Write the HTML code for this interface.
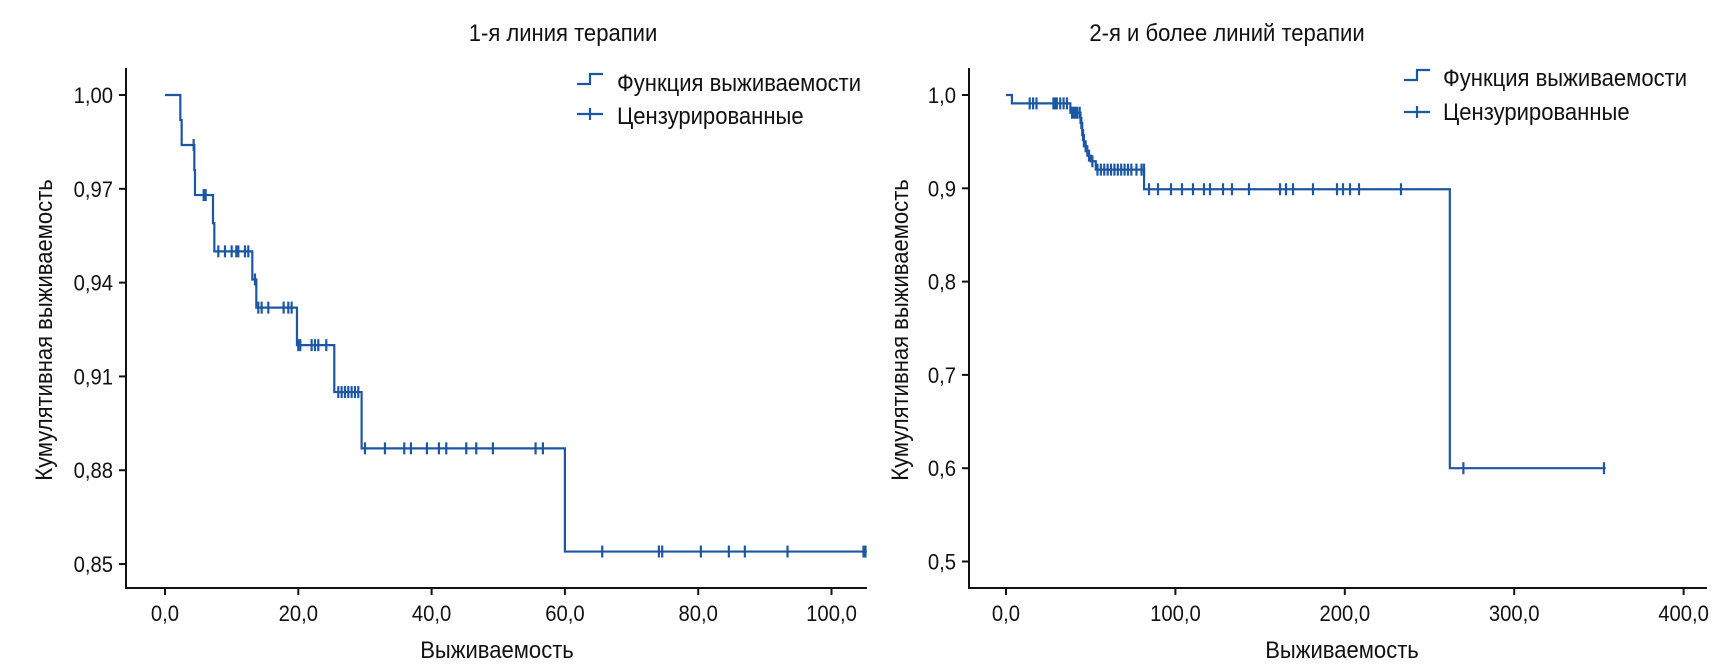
<!DOCTYPE html>
<html><head><meta charset="utf-8"><style>
html,body{margin:0;padding:0;background:#fff;}
svg{display:block;font-family:"Liberation Sans Narrow","Liberation Sans",sans-serif;}
text{fill:#111;}
</style></head><body>
<svg id="s" width="1732" height="671" viewBox="0 0 1732 671" xmlns="http://www.w3.org/2000/svg">
<g id="g" stroke="#111" stroke-width="2" fill="none"></g>
<g id="d" stroke="#1d57a3" stroke-width="2.2" fill="none"></g>
<g id="t"></g>
</svg>
<script>
var G=document.getElementById('g'),D=document.getElementById('d'),T=document.getElementById('t');
function el(p,n,a){var e=document.createElementNS('http://www.w3.org/2000/svg',n);for(var k in a)e.setAttribute(k,a[k]);p.appendChild(e);return e;}
function txt(x,y,s,anc,fs,rot){var tr='translate('+x+','+y+')'+(rot?' rotate(-90)':'')+' scale(0.9,1)';var e=el(T,'text',{transform:tr,'text-anchor':anc,'font-size':fs});e.textContent=s;}
txt(563,41,'1-я линия терапии','middle',24.5);
txt(1227,41,'2-я и более линий терапии','middle',24.5);
txt(497,658,'Выживаемость','middle',24.5);
txt(1342,658,'Выживаемость','middle',24.5);
txt(52,330,'Кумулятивная выживаемость','middle',24.5,true);
txt(908,330,'Кумулятивная выживаемость','middle',24.5,true);
txt(617,91,'Функция выживаемости','start',24.5);
txt(617,124,'Цензурированные','start',24.5);
txt(1443,86,'Функция выживаемости','start',24.5);
txt(1443,120,'Цензурированные','start',24.5);
// left
var L={x0:165,sx:133.3/20,y0:95,sy:3127};
function lx(v){return L.x0+v*L.sx} function ly(v){return L.y0+(1-v)*L.sy}
el(G,'path',{d:'M126 68V588H867'});
[1.00,0.97,0.94,0.91,0.88,0.85].forEach(function(v){var y=ly(v);el(G,'path',{d:'M119 '+y+'H126'});txt(113,y+8,v.toFixed(2).replace('.',','),'end',22.5);});
[0,20,40,60,80,100].forEach(function(v){var x=lx(v);el(G,'path',{d:'M'+x+' 588V595'});txt(x,621,v.toFixed(1).replace('.',','),'middle',22.5);});
var ls=[[0,1],[2.3,0.992],[2.5,0.984],[4.4,0.976],[4.5,0.968],[7.2,0.959],[7.4,0.950],[13.1,0.941],[13.7,0.932],[19.8,0.920],[25.4,0.905],[29.5,0.887],[60,0.854]];
function steps(pts,end,fx,fy){var d='M'+fx(pts[0][0])+' '+fy(pts[0][1]);for(var i=1;i<pts.length;i++){d+='H'+fx(pts[i][0])+'V'+fy(pts[i][1]);}d+='H'+fx(end);return d;}
el(D,'path',{d:steps(ls,105.3,lx,ly)});
function yAt(pts,v){var y=pts[0][1];for(var i=1;i<pts.length;i++)if(pts[i][0]<=v)y=pts[i][1];return y;}
function cens(list,pts,fx,fy){list.forEach(function(v){var x=fx(v),y=fy(yAt(pts,v));el(D,'path',{d:'M'+x+' '+(y-6)+'V'+(y+6)});});}
cens([4.3,5.8,6.1,8,9,10,10.7,11,12,12.5,13.5,14,14.5,15.5,17.8,18.5,19,20,20.3,22,22.5,23,24.2,26,26.5,27,27.5,28,28.5,29,30,33,35.9,36.9,39.3,41.1,42.2,45.2,46.7,49.2,55.6,56.7,65.6,74.1,74.6,80.4,84.6,87,93.4,104.8,105.1],ls,lx,ly);
el(D,'path',{d:'M577 84H590V74H603'});
el(D,'path',{d:'M577 114H603M590 108V120'});
// right
function rx(v){return 1006+v*1.694} function ry(v){return 95+(1-v)*933}
el(G,'path',{d:'M969 68V588H1707'});
[1.0,0.9,0.8,0.7,0.6,0.5].forEach(function(v){var y=ry(v);el(G,'path',{d:'M962 '+y+'H969'});txt(956,y+8,v.toFixed(1).replace('.',','),'end',22.5);});
[0,100,200,300,400].forEach(function(v){var x=rx(v);el(G,'path',{d:'M'+x+' 588V595'});txt(x,621,v.toFixed(1).replace('.',','),'middle',22.5);});
var rs=[[0,1],[3.5,0.991],[38,0.981],[44,0.97],[45,0.957],[46,0.945],[48,0.935],[50,0.929],[53,0.92],[81.5,0.899],[262,0.6]];
el(D,'path',{d:steps(rs,354,rx,ry)});
var rc=[14,16,18,28,29,30,32,34,36,39,40,41,42,43.5,44.5,45.5,47,49,51,54,56,58,60,62,64,66,68,70,72,74,77,80];
[1144,1149,1158,1171,1182,1193,1204,1210,1223,1232,1249,1280,1286,1293,1313,1337,1343,1350,1359,1401].forEach(function(p){rc.push((p-1006)/1.694);});
rc.push(270,353);
cens(rc,rs,rx,ry);
el(D,'path',{d:'M1404 80H1417V70H1430'});
el(D,'path',{d:'M1404 112H1430M1417 106V118'});
</script>
</body></html>
